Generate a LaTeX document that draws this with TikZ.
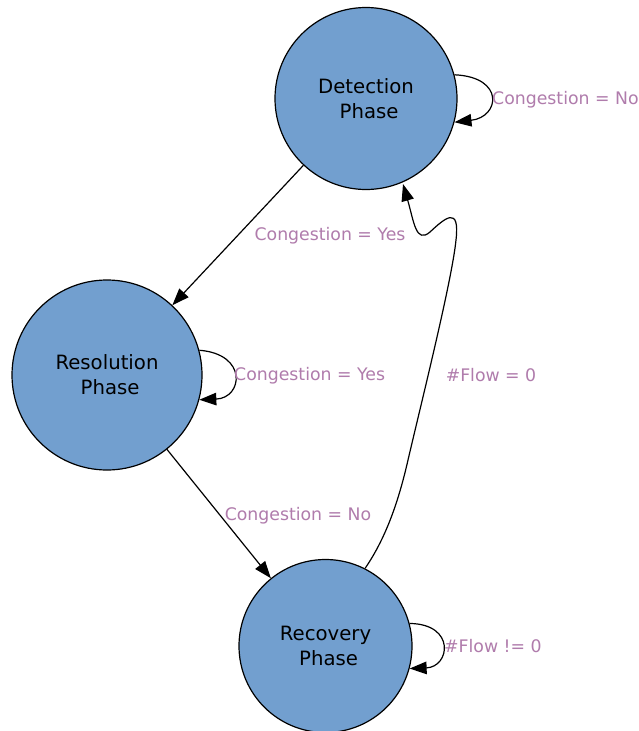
\documentclass[tikz,border=0pt]{standalone}
\usepackage{fontspec}
\setmainfont{DejaVu Sans}
\usetikzlibrary{arrows.meta}
\definecolor{statefill}{HTML}{729FCF}
\definecolor{guard}{HTML}{B07CAC}
\begin{document}
\begin{tikzpicture}[x=1pt,y=-1pt,
  state/.style={circle,draw=black,line width=1.2pt,fill=statefill,inner sep=0pt,
    align=center,font=\fontsize{19.7}{25}\selectfont},
  trans/.style={draw=black,line width=1.2pt,-{Triangle[length=17pt,width=12.5pt]}},
  guardtext/.style={text=guard,font=\fontsize{17.3}{20}\selectfont,inner sep=0pt}]
  \useasboundingbox[fill=white] (0,0) rectangle (639,731);

  % states
  \node[state,minimum size=182pt] (det) at (366,98.5) {Detection\\\mbox{\ }Phase};
  \node[state,minimum size=190pt] (res) at (107,375) {Resolution\\\mbox{\ }Phase};
  \node[state,minimum size=173pt] (rec) at (325.5,646) {Recovery\\\mbox{\ }Phase};

  % transitions between states
  \draw[trans] (det) -- (res);
  \draw[trans] (res) -- (rec);
  \draw[trans] (rec.63) .. controls (388,535) and (400,495) .. (408,460)
     .. controls (422,400) and (452,280) .. (456,240)
     .. controls (460,205) and (445,218) .. (430,232)
     .. controls (416,244) and (414,222) .. (403,184);

  % self loops
  \draw[trans] (det.15) .. controls (505,77) and (500,117) .. (det.-15);
  \draw[trans] (res.15) .. controls (248,354) and (243,398) .. (res.-15);
  \draw[trans] (rec.15) .. controls (456,624) and (450,667) .. (rec.-15);

  % guards
  \node[guardtext,anchor=west] (g1) at (492,99.5) {Congestion = No};
  \node[guardtext] (g2) at (330,235.5) {Congestion = Yes};
  \node[guardtext,anchor=west] (g3) at (234,375.5) {Congestion = Yes};
  \node[guardtext] (g4) at (491,375.5) {\#Flow = 0};
  \node[guardtext] (g5) at (298,515.5) {Congestion = No};
  \node[guardtext,anchor=west] (g6) at (444,646.5) {\#Flow != 0};
\end{tikzpicture}
\end{document}
